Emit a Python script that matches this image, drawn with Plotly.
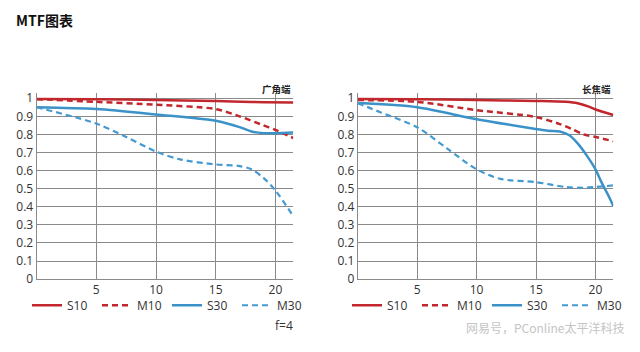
import plotly.graph_objects as go

# ---- data ----
series_names = ["S10", "M10", "S30", "M30"]

wide_S10_x = [0, 5, 10, 15, 18, 21.5]
wide_S10_y = [0.996, 0.995, 0.99, 0.985, 0.979, 0.977]
wide_M10_x = [0, 5, 10, 15, 17, 19, 20, 21.5]
wide_M10_y = [0.995, 0.98, 0.964, 0.94, 0.90, 0.85, 0.825, 0.78]
wide_S30_x = [0, 5, 10, 15, 17, 18, 19, 20, 21.5]
wide_S30_y = [0.95, 0.94, 0.91, 0.875, 0.84, 0.816, 0.807, 0.807, 0.81]
wide_M30_x = [0, 5, 7.5, 10, 12, 15, 17, 18, 19, 20, 21.5]
wide_M30_y = [0.95, 0.86, 0.786, 0.705, 0.662, 0.634, 0.625, 0.607, 0.56, 0.49, 0.348]

tele_S10_x = [0, 5, 10, 15, 17.5, 18.5, 19.5, 20, 21.5]
tele_S10_y = [0.996, 0.995, 0.99, 0.985, 0.98, 0.972, 0.952, 0.9375, 0.907]
tele_M10_x = [0, 5, 10, 15, 17, 18, 19, 20, 21.5]
tele_M10_y = [0.99, 0.98, 0.934, 0.896, 0.857, 0.83, 0.80, 0.786, 0.762]
tele_S30_x = [0, 5, 10, 15, 16, 17, 17.8, 18.5, 19.3, 20, 20.5, 21, 21.5]
tele_S30_y = [0.973, 0.95, 0.884, 0.83, 0.82, 0.816, 0.795, 0.75, 0.68, 0.607, 0.536, 0.473, 0.405]
tele_M30_x = [0, 2, 5, 7.5, 10, 12, 15, 17.5, 19, 20, 21.5]
tele_M30_y = [0.973, 0.92, 0.84, 0.723, 0.607, 0.554, 0.536, 0.509, 0.505, 0.509, 0.518]

x_ticks = [5, 10, 15, 20]
y_ticks = [0, 0.1, 0.2, 0.3, 0.4, 0.5, 0.6, 0.7, 0.8, 0.9, 1]
y_tick_labels = ["0", "0.1", "0.2", "0.3", "0.4", "0.5", "0.6", "0.7", "0.8", "0.9", "1"]

panel_titles = ["广角端", "长焦端"]
chart_title = "MTF图表"
aperture = "f=4"
watermark = "网易号，PConline太平洋科技"

RED = "#c1272d"
BLUE = "#3a92c8"
styles = {
    "S10": dict(color=RED, width=2.5, dash="solid"),
    "M10": dict(color=RED, width=2.5, dash="6px,4px"),
    "S30": dict(color=BLUE, width=2.5, dash="solid"),
    "M30": dict(color="#4499d0", width=2.2, dash="6px,4px"),
}

panels = [
    dict(x=[wide_S10_x, wide_M10_x, wide_S30_x, wide_M30_x],
         y=[wide_S10_y, wide_M10_y, wide_S30_y, wide_M30_y],
         xa="x", ya="y", legend="legend"),
    dict(x=[tele_S10_x, tele_M10_x, tele_S30_x, tele_M30_x],
         y=[tele_S10_y, tele_M10_y, tele_S30_y, tele_M30_y],
         xa="x2", ya="y2", legend="legend2"),
]

fig = go.Figure()
for p in panels:
    for name, xs, ys in zip(series_names, p["x"], p["y"]):
        fig.add_trace(go.Scatter(
            x=xs, y=ys, name=name, mode="lines",
            line=dict(shape="spline", smoothing=0.8, **styles[name]),
            xaxis=p["xa"], yaxis=p["ya"], legend=p["legend"],
            hoverinfo="skip",
        ))

W, H = 640, 352
ytop_px, ybot_px = 98.3, 285.0
ymax = 1.03
scale = (ybot_px - ytop_px) / 1.0
dom_top = 1 - (ybot_px - ymax * scale) / H
dom_bot = 1 - ybot_px / H

axis_font = dict(family="Open Sans, Liberation Sans, sans-serif", size=12, color="#333333")
grid = "#8a8a8a"

def xaxis(dom, anchor):
    return dict(domain=dom, range=[0, 21.5], anchor=anchor,
                tickvals=x_ticks, showgrid=True, gridcolor=grid, gridwidth=1,
                showline=True, linecolor=grid, linewidth=1, zeroline=False,
                ticks="", tickfont=axis_font, fixedrange=True)

def yaxis(anchor):
    return dict(domain=[dom_bot, dom_top], range=[0, ymax], anchor=anchor,
                tickvals=y_ticks, ticktext=y_tick_labels, showgrid=True,
                gridcolor=grid, gridwidth=1, showline=True, linecolor=grid,
                linewidth=1, zeroline=False, ticks="", tickfont=axis_font,
                fixedrange=True)

x1 = [36.6 / W, 293.3 / W]
x2 = [357.7 / W, 613.3 / W]

legend_common = dict(orientation="h", yanchor="middle", xanchor="left",
                     font=dict(family="Open Sans, Liberation Sans, sans-serif", size=12, color="#333333"),
                     bgcolor="rgba(0,0,0,0)", entrywidth=25, entrywidthmode="pixels",
                     itemclick=False, itemdoubleclick=False, tracegroupgap=0)

fig.update_layout(
    width=W, height=H, autosize=False, margin=dict(l=0, r=0, t=0, b=0),
    paper_bgcolor="white", plot_bgcolor="white",
    xaxis=xaxis(x1, "y"), yaxis=yaxis("x"),
    xaxis2=xaxis(x2, "y2"), yaxis2=yaxis("x2"),
    legend=dict(x=27 / W, y=1 - 312 / H, **legend_common),
    legend2=dict(x=347 / W, y=1 - 312 / H, **legend_common),
    showlegend=True,
    annotations=[
        dict(text="<b>%s</b>" % chart_title, x=14 / W, y=1 - 18 / H, xref="paper", yref="paper",
             xanchor="left", yanchor="middle", showarrow=False,
             font=dict(family="Noto Sans CJK SC, sans-serif", size=14, color="#111111")),
        dict(text="<b>%s</b>" % panel_titles[0], x=293 / W, y=1 - 89 / H, xref="paper", yref="paper",
             xanchor="right", yanchor="middle", showarrow=False,
             font=dict(family="Noto Sans CJK SC, sans-serif", size=9.5, color="#222222")),
        dict(text="<b>%s</b>" % panel_titles[1], x=613 / W, y=1 - 89 / H, xref="paper", yref="paper",
             xanchor="right", yanchor="middle", showarrow=False,
             font=dict(family="Noto Sans CJK SC, sans-serif", size=9.5, color="#222222")),
        dict(text=aperture, x=295 / W, y=1 - 333 / H, xref="paper", yref="paper",
             xanchor="right", yanchor="middle", showarrow=False,
             font=dict(family="Open Sans, Liberation Sans, sans-serif", size=12, color="#333333")),
        dict(text=watermark, x=627 / W, y=1 - 335 / H, xref="paper", yref="paper",
             xanchor="right", yanchor="middle", showarrow=False,
             font=dict(family="Noto Sans CJK SC, sans-serif", size=12, color="#c4c4c4")),
    ],
)

fig.write_html("out.html", config={"displayModeBar": False})
